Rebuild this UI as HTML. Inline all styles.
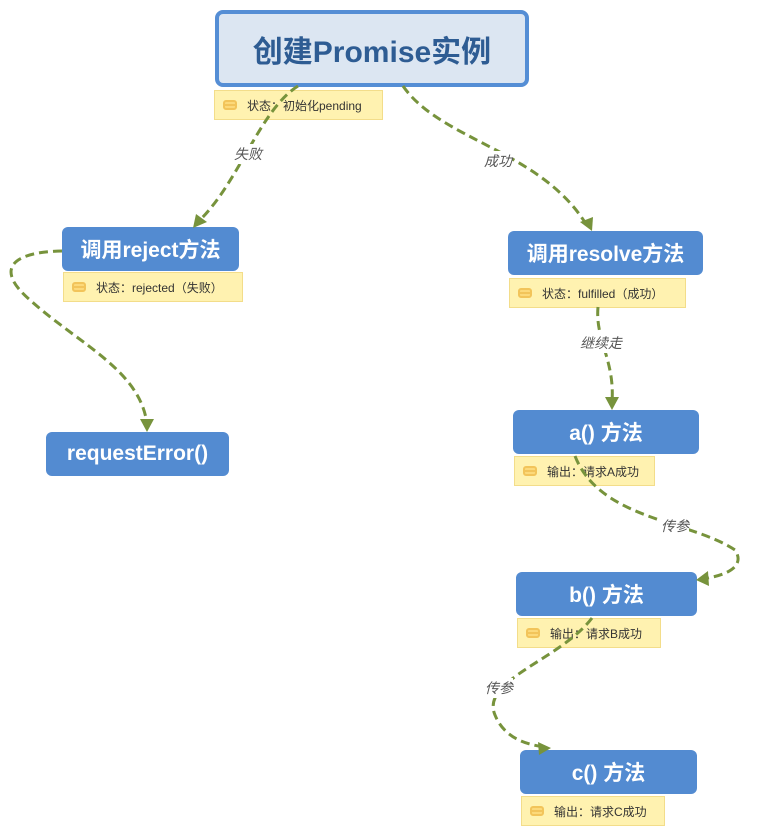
<!DOCTYPE html>
<html><head><meta charset="utf-8"><style>
body{margin:0;width:759px;height:836px;background:#fff;position:relative;overflow:hidden;font-family:"Liberation Sans","Noto Sans CJK SC",sans-serif}
.n{position:absolute;background:#538bd1;color:#fff;font-weight:bold;font-size:21px;border-radius:6px;display:flex;align-items:center;justify-content:center;box-sizing:border-box}
.note{position:absolute;background:#fff2b0;border:1px solid #f3dd8a;font-size:12px;color:#333;display:flex;align-items:center;box-sizing:border-box;padding-left:8px}
.ic{width:14px;height:10px;border:2px solid #f2c45a;border-radius:3px;box-sizing:border-box;margin-right:10px;position:relative;background:#fcd97a}
.ic:after{content:"";position:absolute;left:0;right:0;top:2px;height:2px;background:#f2c45a}
.lb{position:absolute;font-size:14px;color:#555;font-style:italic;background:#fff;z-index:1}
svg{z-index:2}
</style></head><body>
<div class="n" style="left:215px;top:10px;width:314px;height:77px;background:#dce6f2;border:4px solid #558ed5;border-radius:8px;color:#2e5c93;font-size:30px">创建Promise实例</div>
<div class="note" style="left:214px;top:90px;width:169px;height:30px"><span class="ic"></span>状态：初始化pending</div>
<div class="n" style="left:62px;top:227px;width:177px;height:44px">调用reject方法</div>
<div class="note" style="left:63px;top:272px;width:180px;height:30px"><span class="ic"></span>状态：rejected（失败）</div>
<div class="n" style="left:46px;top:432px;width:183px;height:44px">requestError()</div>
<div class="n" style="left:508px;top:231px;width:195px;height:44px">调用resolve方法</div>
<div class="note" style="left:509px;top:278px;width:177px;height:30px"><span class="ic"></span>状态：fulfilled（成功）</div>
<div class="n" style="left:513px;top:410px;width:186px;height:44px">a() 方法</div>
<div class="note" style="left:514px;top:456px;width:141px;height:30px"><span class="ic"></span>输出：请求A成功</div>
<div class="n" style="left:516px;top:572px;width:181px;height:44px">b() 方法</div>
<div class="note" style="left:517px;top:618px;width:144px;height:30px"><span class="ic"></span>输出：请求B成功</div>
<div class="n" style="left:520px;top:750px;width:177px;height:44px">c() 方法</div>
<div class="note" style="left:521px;top:796px;width:144px;height:30px"><span class="ic"></span>输出：请求C成功</div>
<svg width="759" height="836" style="position:absolute;left:0;top:0">
<g fill="none" stroke="#77933c" stroke-width="3" stroke-dasharray="9,5">
<path d="M298 86 C260 110 240 180 200 220"/>
<path d="M403 86 C440 140 540 150 586 224"/>
<path d="M62 251 C10 252 -5 270 30 300 C80 345 140 370 147 424"/>
<path d="M598 307 C595 340 615 360 612 402"/>
<path d="M575 456 C600 520 690 520 735 550 C745 565 730 575 702 579"/>
<path d="M592 618 C560 660 480 680 495 715 C505 740 530 745 545 747"/>
</g>
<g fill="#77933c">
<path d="M193 228 L196 214 L207 222 Z"/>
<path d="M592 231 L580 222 L593 217 Z"/>
<path d="M147 432 L140 419 L154 419 Z"/>
<path d="M612 410 L605 397 L619 397 Z"/>
<path d="M696 580 L708 571 L709 586 Z"/>
<path d="M551 748 L538 742 L539 755 Z"/>
</g>
</svg>
<div class="lb" style="left:234px;top:144px;z-index:3">失败</div>
<div class="lb" style="left:484px;top:151px;z-index:3">成功</div>
<div class="lb" style="left:580px;top:333px;z-index:3">继续走</div>
<div class="lb" style="left:661px;top:516px;z-index:3">传参</div>
<div class="lb" style="left:485px;top:678px;z-index:3">传参</div>
</body></html>
